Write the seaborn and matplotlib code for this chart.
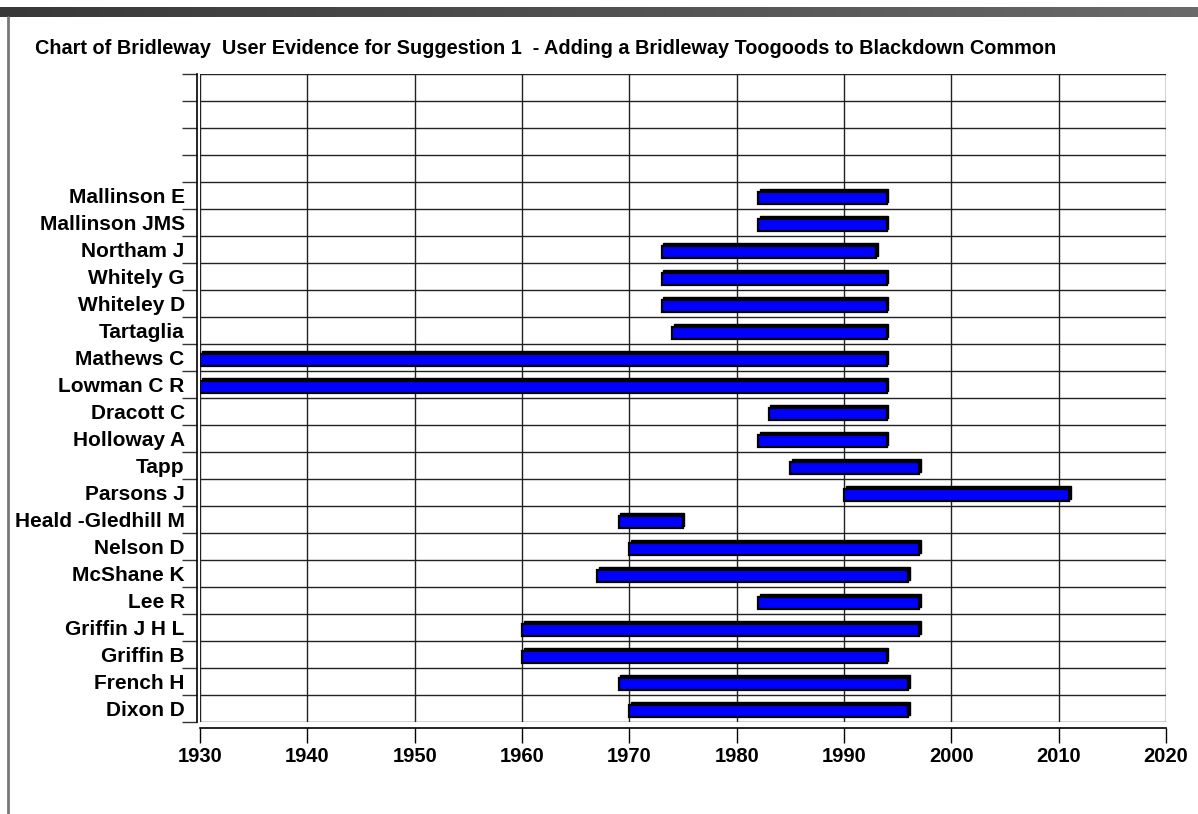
import numpy as np
import pandas as pd
import matplotlib
matplotlib.use("Agg")
import matplotlib.pyplot as plt
from matplotlib.patches import Rectangle
from matplotlib.transforms import ScaledTranslation
from matplotlib.colors import LinearSegmentedColormap
import seaborn as sns

# ---- data (top to bottom) ----
names = ["Mallinson E", "Mallinson JMS", "Northam J", "Whitely G", "Whiteley D",
         "Tartaglia", "Mathews C", "Lowman C R", "Dracott C", "Holloway A",
         "Tapp", "Parsons J", "Heald -Gledhill M", "Nelson D", "McShane K",
         "Lee R", "Griffin J H L", "Griffin B", "French H", "Dixon D"]
start_year = [1982, 1982, 1973, 1973, 1973, 1974, 1930, 1930, 1983, 1982,
              1985, 1990, 1969, 1970, 1967, 1982, 1960, 1960, 1969, 1970]
end_year = [1994, 1994, 1993, 1994, 1994, 1994, 1994, 1994, 1994, 1994,
            1997, 2011, 1975, 1997, 1996, 1997, 1997, 1994, 1996, 1996]
blank_rows = ["", " ", "  ", "   "]
x_ticks = [1930, 1940, 1950, 1960, 1970, 1980, 1990, 2000, 2010, 2020]
title = "Chart of Bridleway  User Evidence for Suggestion 1  - Adding a Bridleway Toogoods to Blackdown Common"

sns.set_theme(style="white")
plt.rcParams["font.family"] = ["Liberation Sans", "DejaVu Sans"]
plt.rcParams["font.weight"] = "bold"

W, H = 1198, 814
fig = plt.figure(figsize=(W / 100, H / 100), dpi=100)
fig.patch.set_facecolor("white")

# top banner with gradient
bax = fig.add_axes([0, 1 - 17 / H, 1, 10 / H])
grad = np.linspace(0, 1, 256).reshape(1, -1)
cmap = LinearSegmentedColormap.from_list("g", ["#383838", "#6a6a6a"])
bax.imshow(grad, aspect="auto", cmap=cmap, extent=[0, 1, 0, 1])
bax.set_axis_off()
# left frame line
fig.add_artist(plt.Line2D([8 / W, 8 / W], [0, 1 - 17 / H], color="#777777",
                          lw=2, transform=fig.transFigure))

fig.text(35 / W, 1 - 48 / H, title, fontsize=14.3, fontweight="bold",
         ha="left", va="center", color="black")

order = blank_rows + names
df = pd.DataFrame({"name": names, "start": start_year, "end": end_year})

ax = fig.add_axes([200 / W, 1 - 722 / H, 966 / W, 648 / H])
sns.barplot(data=df, x="end", y="name", order=order, orient="h",
            errorbar=None, color="#0000FF", saturation=1, width=0.46,
            edgecolor="black", linewidth=1.6, ax=ax)

start_map = dict(zip(names, start_year))
end_map = dict(zip(names, end_year))
shift = ScaledTranslation(1.5 / 100, 2.5 / 100, fig.dpi_scale_trans)
bars = list(ax.patches)
for p in bars:
    idx = int(round(p.get_y() + p.get_height() / 2))
    nm = order[idx]
    p.set_x(start_map[nm])
    p.set_width(end_map[nm] - start_map[nm])
    p.set_y(p.get_y() + 0.09)
    p.set_facecolor("#0000FF")
    p.set_zorder(3)
    sh = Rectangle((p.get_x(), p.get_y()), p.get_width(), p.get_height(),
                   facecolor="black", edgecolor="black", lw=1.0,
                   transform=ax.transData + shift, zorder=2.9)
    ax.add_patch(sh)

ax.set_xlim(x_ticks[0], x_ticks[-1])
ax.set_ylim(len(order) - 0.5, -0.5)
ax.set_xticks(x_ticks)
ax.set_xticklabels([str(t) for t in x_ticks], fontweight="bold")
ax.set_yticks(range(len(order)))
ax.set_yticklabels(order, fontweight="bold")
ax.set_yticks(np.arange(-0.5, len(order), 1.0), minor=True)
ax.set_xlabel("")
ax.set_ylabel("")

ax.tick_params(axis="y", which="major", length=0, pad=9, labelsize=15,
               labelcolor="black")
ax.tick_params(axis="y", which="minor", length=11, width=1, color="#333333", left=True)
ax.tick_params(axis="x", which="major", length=11, width=1, color="black",
               pad=3, bottom=True, labelcolor="black", labelsize=14.5)

# 3-D style offset of the tick marks
ydown = ScaledTranslation(0, -3 / 100, fig.dpi_scale_trans)
xleft = ScaledTranslation(-2 / 100, 0, fig.dpi_scale_trans)
for t in ax.yaxis.get_minor_ticks():
    t.tick1line.set_transform(t.tick1line.get_transform() + ydown)
for t in ax.xaxis.get_major_ticks():
    t.tick1line.set_transform(t.tick1line.get_transform() + xleft)

ax.grid(False)
ax.grid(True, axis="x", which="major", color="#222222", lw=1)
ax.grid(True, axis="y", which="minor", color="#222222", lw=1)
ax.set_axisbelow(True)

for s in ["top", "right"]:
    ax.spines[s].set_visible(False)
ax.spines["left"].set_position(("outward", 2))
ax.spines["bottom"].set_position(("outward", 4))
for s in ["left", "bottom"]:
    ax.spines[s].set_color("black")
    ax.spines[s].set_linewidth(1.2)

fig.savefig("out.png", dpi=100, facecolor="white")
